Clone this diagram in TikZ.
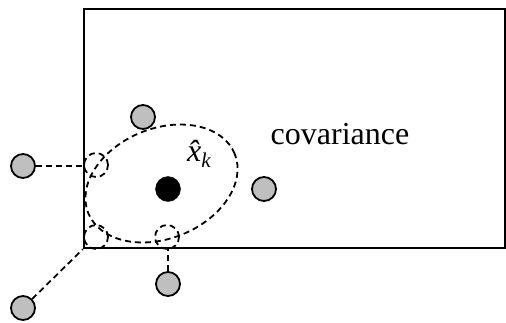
\documentclass[tikz,border=0pt]{standalone}
\usepackage{fontspec}
\setmainfont{Liberation Serif}
\usetikzlibrary{positioning,shapes.geometric}

\begin{document}
\begin{tikzpicture}[x=1pt,y=-1pt,
  dsh/.style={dash pattern=on 6pt off 4pt,line width=1.8pt},
  lm/.style={draw,circle,fill=gray!50,line width=1.8pt,minimum size=24pt,inner sep=0pt},
  est/.style={draw,circle,fill=black,minimum size=25pt,inner sep=0pt},
  hit/.style={draw,circle,dsh,minimum size=24pt,inner sep=0pt}]
  \useasboundingbox (0,0) rectangle (506,322);
  \node[draw,line width=2.4pt,minimum width=421pt,minimum height=239pt,inner sep=0pt] (box) at (294.5,128.5) {};
  \node[draw,ellipse,dsh,minimum width=158pt,minimum height=110pt,inner sep=0pt,rotate=22] (cov) at (161.5,183.5) {};
  \node[est] (xk) at (168,189) {};
  \node[font=\fontsize{32}{36}\selectfont\itshape] (xlab) at (199,154) {\^{x}\raisebox{-6pt}{\fontsize{21}{24}\selectfont k}};
  \node[font=\fontsize{32}{38}\selectfont] (covlab) at (340,134) {covariance};
  \node[lm] (ltop) at (143,117) {};
  \node[lm] (lright) at (264,189) {};
  \node[lm] (lleft) at (23,166) {};
  \node[lm] (lbot) at (168,284) {};
  \node[lm] (lcorner) at (23,308) {};
  \node[hit] (hleft) at (96,165) {};
  \node[hit] (hcorner) at (96,237) {};
  \node[hit] (hbot) at (167,237) {};
  \draw[dsh] (lleft) -- (lleft -| box.west);
  \draw[dsh] (lbot) -- (lbot |- box.south);
  \draw[dsh] (lcorner) -- (box.south west);
\end{tikzpicture}
\end{document}
